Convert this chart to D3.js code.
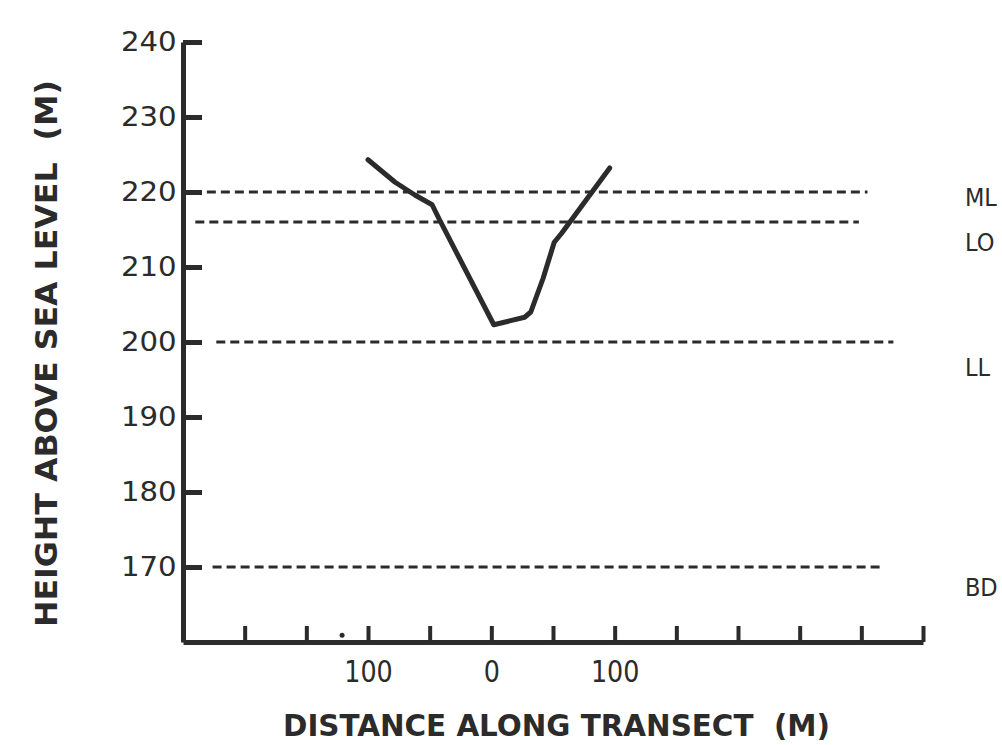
<!DOCTYPE html>
<html>
<head>
<meta charset="utf-8">
<script src="https://cdn.jsdelivr.net/npm/d3@7"></script>
<style>
  body { margin: 0; background: #fff; }
  svg { display: block; }
  .axis path, .axis line { stroke: #2b2b2b; }
</style>
</head>
<body>
<svg id="transect" width="1002" height="745"></svg>
<script>
// height ticks (m) and distance ticks (m)
let yTicks = [170, 180, 190, 200, 210, 220, 230, 240]
let xTicks = [-200, -150, -100, -50, 0, 50, 100, 150, 200, 250, 300, 350]
let xLabelled = [-100, 0, 100]

// reference levels
let levelNames = ["ML", "LO", "LL", "BD"]
let levelHeights = [220, 216, 200, 170]
let levelFrom = [-242, -240, -223, -226]
let levelTo = [305, 298, 326, 318]
let labelHeights = [219.4, 213.4, 196.7, 167.4]

// channel profile
let profileDist = [-100, -78, -62, -48, -42, 2, 27, 32, 42, 51, 57, 96]
let profileHeight = [224.3, 221.3, 219.6, 218.3, 216.3, 202.3, 203.3, 204, 208.5, 213.3, 214.5, 223.2]

let ink = "#2b2b2b"
let font = "'DejaVu Sans', sans-serif"

let svg = d3.select("#transect")

let x = d3.scaleLinear()
    .domain([-250, 350])
    .range([183, 923])

let y = d3.scaleLinear()
    .domain([160, 240])
    .range([642, 42])

let yAxisSettings = d3.axisLeft(y)
    .tickValues(yTicks)
    .tickSize(-19)
    .tickSizeOuter(0)
    .tickPadding(6)

let xAxisSettings = d3.axisBottom(x)
    .tickValues(xTicks)
    .tickSize(-16)
    .tickSizeOuter(0)
    .tickPadding(18)
    .tickFormat(d => xLabelled.includes(d) ? Math.abs(d) : "")

// dashed levels first so the axis sits over them
let levels = levelNames.map((name, i) => ({
  name: name, h: levelHeights[i], from: levelFrom[i], to: levelTo[i], labelH: labelHeights[i]
}))

svg.append("g")
  .selectAll("line")
  .data(levels)
  .join("line")
  .attr("x1", d => x(d.from))
  .attr("x2", d => x(d.to))
  .attr("y1", d => y(d.h))
  .attr("y2", d => y(d.h))
  .style("stroke", ink)
  .style("stroke-width", 3)
  .style("stroke-dasharray", "9,5")

svg.append("g")
  .selectAll("text")
  .data(levels)
  .join("text")
  .attr("transform", d => `translate(${x(384)},${y(d.labelH)}) scale(0.9,1)`)
  .attr("dy", "0.36em")
  .style("fill", ink)
  .style("font-family", font)
  .style("font-size", "25px")
  .text(d => d.name)

let yAxisTicks = svg.append("g")
    .attr("class", "y axis")
    .attr("transform", `translate(${x(-250)},0)`)
    .call(yAxisSettings)

yAxisTicks.select(".domain").style("stroke-width", 5)
yAxisTicks.selectAll(".tick line").style("stroke-width", 5)
yAxisTicks.selectAll(".tick text")
  .attr("transform", "scale(1.08,1)")
  .style("fill", ink)
  .style("font-family", font)
  .style("font-size", "27px")

let xAxisTicks = svg.append("g")
    .attr("class", "x axis")
    .attr("transform", `translate(0,${y(160)})`)
    .call(xAxisSettings)

xAxisTicks.select(".domain").style("stroke-width", 5)
xAxisTicks.selectAll(".tick line").style("stroke-width", 4)
xAxisTicks.selectAll(".tick text")
  .attr("transform", "scale(0.82,1)")
  .style("fill", ink)
  .style("font-family", font)
  .style("font-size", "31px")

// stray mark beside the axis in the original
svg.append("circle")
  .attr("cx", x(-121))
  .attr("cy", y(160.9))
  .attr("r", 2.5)
  .style("fill", ink)

let line = d3.line()
    .x(d => x(d[0]))
    .y(d => y(d[1]))

svg.append("path")
  .datum(profileDist.map((d, i) => [d, profileHeight[i]]))
  .attr("d", line)
  .style("fill", "none")
  .style("stroke", ink)
  .style("stroke-width", 5)
  .style("stroke-linejoin", "round")
  .style("stroke-linecap", "round")

svg.append("text")
  .attr("x", 283)
  .attr("y", 736)
  .attr("textLength", 547)
  .attr("lengthAdjust", "spacingAndGlyphs")
  .style("white-space", "pre")
  .style("fill", ink)
  .style("font-family", font)
  .style("font-weight", "bold")
  .style("font-size", "30px")
  .text("DISTANCE ALONG TRANSECT  (M)")

svg.append("text")
  .attr("transform", "translate(57,627) rotate(-90)")
  .attr("textLength", 547)
  .attr("lengthAdjust", "spacingAndGlyphs")
  .style("white-space", "pre")
  .style("fill", ink)
  .style("font-family", font)
  .style("font-weight", "bold")
  .style("font-size", "30px")
  .text("HEIGHT ABOVE SEA LEVEL  (M)")
</script>
</body>
</html>
